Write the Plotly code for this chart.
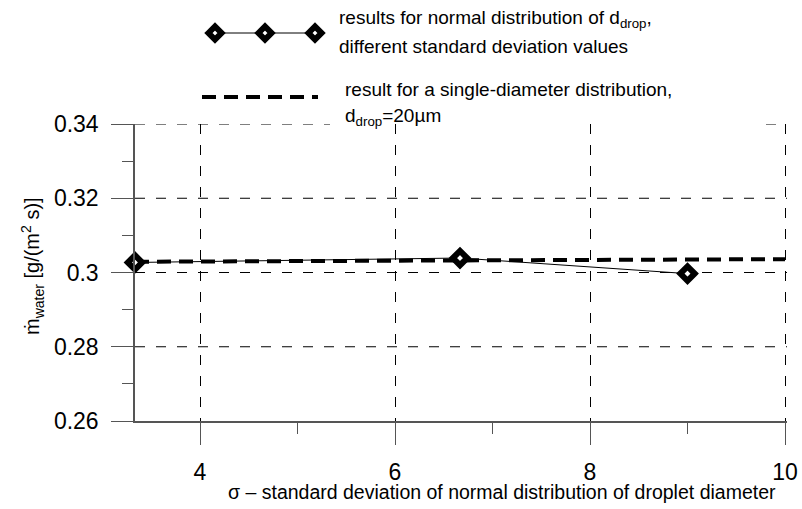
import plotly.graph_objects as go

# ---- data ----
sigma = [10/3, 20/3, 9.0]
m_normal = [0.3027, 0.3039, 0.2997]
sigma_single = [10/3, 20/3, 10.0]
m_single = [0.3029, 0.3033, 0.3036]

x_ticks = [4, 6, 8, 10]
y_ticks = [0.26, 0.28, 0.30, 0.32, 0.34]
y_tick_text = ["0.26", "0.28", "0.3", "0.32", "0.34"]

W, H = 802, 509
ML, MR, MT, MB = 135, 15, 124, 88
PW, PH = W - ML - MR, H - MT - MB

def px(x):
    return (x - ML) / PW

def py(y):
    return (H - MB - y) / PH

FONT = "Liberation Sans, Arial, sans-serif"
GRID_DASH = "10px,11px"

fig = go.Figure()
fig.add_trace(go.Scatter(
    x=sigma_single, y=m_single, mode="lines",
    line=dict(color="black", width=4, dash="14px,8px"),
    showlegend=False, hoverinfo="skip"))
fig.add_trace(go.Scatter(
    x=sigma, y=m_normal, mode="lines+markers",
    line=dict(color="black", width=1),
    marker=dict(symbol="diamond", size=11, color="white",
                line=dict(color="black", width=6)),
    cliponaxis=False, showlegend=False))

axis_common = dict(
    showline=True, linecolor="#555", linewidth=1.5,
    ticks="outside", ticklen=22, tickwidth=1.2, tickcolor="#555",
    gridcolor="black", gridwidth=1, griddash=GRID_DASH,
    zeroline=False, automargin=False,
    tickfont=dict(family=FONT, size=23, color="black"),
    minor=dict(ticks="outside", ticklen=11, tickwidth=1.2, tickcolor="#555", showgrid=False),
)

x_hi = 10 + 2 / 97.5
fig.update_xaxes(range=[10/3, x_hi], tickvals=x_ticks, ticktext=[str(v) for v in x_ticks],
                 showgrid=True, minor_dtick=1, minor_tick0=0, ticklabelstandoff=8, **axis_common)
fig.update_yaxes(range=[y_ticks[0], y_ticks[-1]], tickvals=y_ticks, ticktext=y_tick_text,
                 showgrid=False, minor_dtick=0.01, minor_tick0=0, ticklabelstandoff=8, **axis_common)

shapes = []
# horizontal gridlines drawn as shapes (the top one is interrupted behind the legend text)
for yv in y_ticks[1:-1]:
    shapes.append(dict(type="line", xref="paper", yref="y", layer="below",
                       x0=0, x1=1, y0=yv, y1=yv,
                       line=dict(color="black", width=1, dash=GRID_DASH)))
for xa, xb in ((0, px(330)), (px(766), 1)):
    shapes.append(dict(type="line", xref="paper", yref="y",
                       x0=xa, x1=xb, y0=y_ticks[-1], y1=y_ticks[-1],
                       line=dict(color="black", width=1, dash=GRID_DASH)))
# legend item 1: thin line with diamonds
shapes.append(dict(type="line", xref="paper", yref="paper",
                   x0=px(215), x1=px(315), y0=py(33), y1=py(33),
                   line=dict(color="black", width=1)))
for xd in (215, 265, 315):
    shapes.append(dict(type="path", xref="paper", yref="paper",
                       xsizemode="pixel", ysizemode="pixel",
                       xanchor=px(xd), yanchor=py(33),
                       path="M -6.5 0 L 0 6.5 L 6.5 0 L 0 -6.5 Z",
                       fillcolor="white", line=dict(color="black", width=6)))
# legend item 2: thick dashed line
shapes.append(dict(type="line", xref="paper", yref="paper",
                   x0=px(202), x1=px(318), y0=py(97), y1=py(97),
                   line=dict(color="black", width=4, dash="14px,8px")))

annots = []
def txt(x, y, s, size=19, xanchor="left", angle=0):
    annots.append(dict(x=px(x), y=py(y), xref="paper", yref="paper", text=s,
                       showarrow=False, xanchor=xanchor, yanchor="middle",
                       textangle=angle,
                       font=dict(family=FONT, size=size, color="black")))

txt(337, 19, "results for normal distribution of d<sub>drop</sub>,")
txt(337, 47, "different standard deviation values")
txt(343, 89, "result for a single-diameter distribution,")
txt(343, 117, "d<sub>drop</sub>=20µm")
txt(502, 492, "σ – standard deviation of normal distribution of droplet diameter", size=19.5, xanchor="center")
txt(32, 266, "ṁ<sub>water</sub> [g/(m<sup>2</sup> s)]", size=20, xanchor="center", angle=-90)

fig.update_layout(
    width=W, height=H,
    margin=dict(l=ML, r=MR, t=MT, b=MB),
    paper_bgcolor="white", plot_bgcolor="white",
    shapes=shapes, annotations=annots,
    font=dict(family=FONT, color="black"),
    showlegend=False,
)

fig.write_html("out.html")
